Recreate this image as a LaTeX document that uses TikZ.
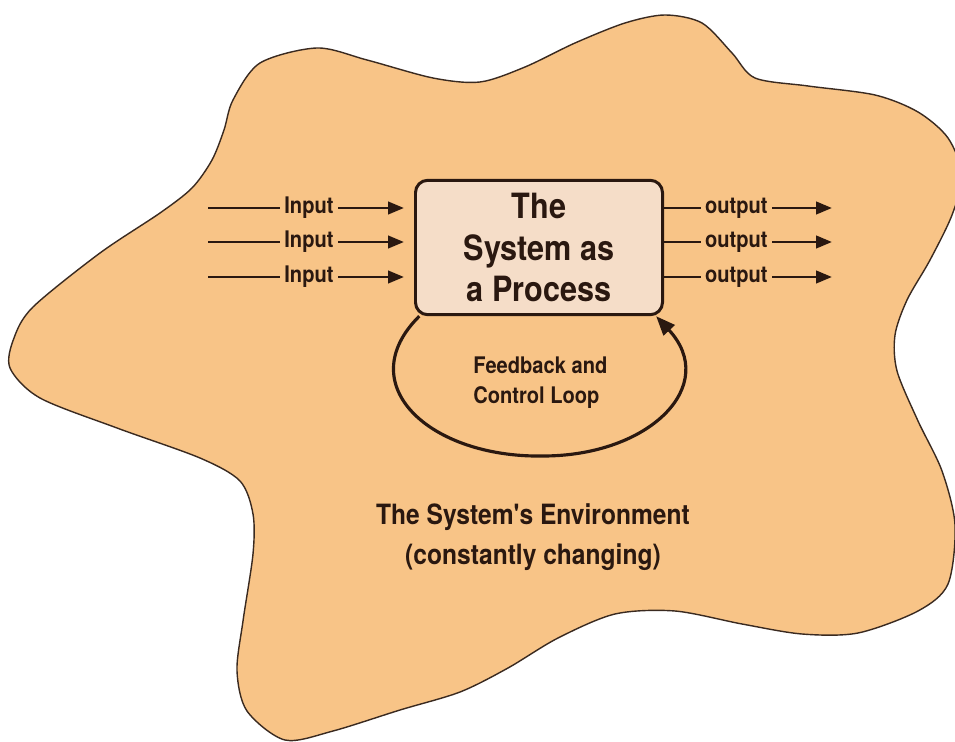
\documentclass[tikz,border=0pt]{standalone}
\usepackage{fontspec}
\setmainfont{TeX Gyre Heros}[FakeStretch=0.88]
\newfontfamily\plainheros{TeX Gyre Heros}[FakeStretch=0.88]
\usetikzlibrary{arrows.meta}
\definecolor{blobfill}{HTML}{F8C487}
\definecolor{boxfill}{HTML}{F5DDC8}
\definecolor{ink}{HTML}{2A1810}
\definecolor{edgeclr}{HTML}{3A2A20}
\begin{document}
\begin{tikzpicture}[x=0.02cm,y=-0.02cm,
  blob/.style={draw=edgeclr, line width=0.8pt, fill=blobfill},
  sysbox/.style={draw=ink, line width=1.7pt, fill=boxfill, rounded corners=7pt,
    minimum width=140.6pt, minimum height=76.5pt, align=center, text=ink,
    inner sep=0pt, font=\bfseries\fontsize{19.8}{23.5}\selectfont},
  ioline/.style={draw=ink, line width=1.6pt, -{Triangle[length=9pt,width=7pt]}},
  iolbl/.style={fill=blobfill, inner xsep=2.5pt, inner ysep=1pt, text=ink,
    font=\bfseries\fontsize{13}{15}\selectfont},
  loopline/.style={draw=ink, line width=1.8pt, -{Triangle[length=11pt,width=8.5pt]}},
  fblbl/.style={align=left, text=ink, inner sep=0pt, font=\bfseries\fontsize{13}{17}\selectfont},
  envlbl/.style={align=center, text=ink, inner sep=0pt, font=\bfseries\fontsize{15.9}{23}\selectfont}
]
\useasboundingbox (0,0) rectangle (955,742);
\fill[white] (0,0) rectangle (955,742);
\begin{scope}
\clip (0,0) rectangle (955,742);
\draw[blob] plot[smooth cycle, tension=0.5] coordinates {
 (260,63) (317,48) (367,60) (433,78) (480,82) (525,67) (575,43) (625,23)
 (665,15) (702,23) (732,53) (755,78) (808,86) (875,95) (918,112) (948,138)
 (962,175) (952,215) (930,260) (907,300) (895,335) (897,371) (918,421)
 (942,471) (955,525) (948,584) (918,611) (858,633) (802,634) (742,624)
 (675,611) (615,614) (558,638) (508,668) (460,692) (400,710) (333,731)
 (285,740) (247,711) (237,671) (243,621) (253,554) (253,514) (240,481)
 (200,458) (117,428) (40,398) (10,368) (14,338) (33,307) (100,253)
 (160,213) (192,188) (212,160) (224,130) (233,100)};
\end{scope}

\node[sysbox] (sys) at (539,247.5) {The\\System as\\a Process};

\coordinate (i1) at (208,208);
\coordinate (i2) at (208,242);
\coordinate (i3) at (208,277);
\draw[ioline, shorten >=5.7pt] (i1) -- node[iolbl, pos=0.49] {Input} (i1 -| sys.west);
\draw[ioline, shorten >=5.7pt] (i2) -- node[iolbl, pos=0.49] {Input} (i2 -| sys.west);
\draw[ioline, shorten >=5.7pt] (i3) -- node[iolbl, pos=0.49] {Input} (i3 -| sys.west);

\coordinate (o1) at (832,208);
\coordinate (o2) at (832,242);
\coordinate (o3) at (832,277);
\draw[ioline] (o1 -| sys.east) -- node[iolbl, pos=0.43] {output} (o1);
\draw[ioline] (o2 -| sys.east) -- node[iolbl, pos=0.43] {output} (o2);
\draw[ioline] (o3 -| sys.east) -- node[iolbl, pos=0.43] {output} (o3);

\coordinate (lpB) at (543,456);
\draw[loopline] ([xshift=3pt]sys.south west) .. controls (350,385) and (430,458) .. (lpB)
  .. controls (650,456) and (720,385) .. ([xshift=-4.5pt]sys.south east);

\node[fblbl, anchor=west] (fb) at (473,383) {Feedback and\\Control Loop};
\node[envlbl] (env) at (533,537) {The System{\plainheros\bfseries '}s Environment\\(constantly changing)};
\end{tikzpicture}
\end{document}
